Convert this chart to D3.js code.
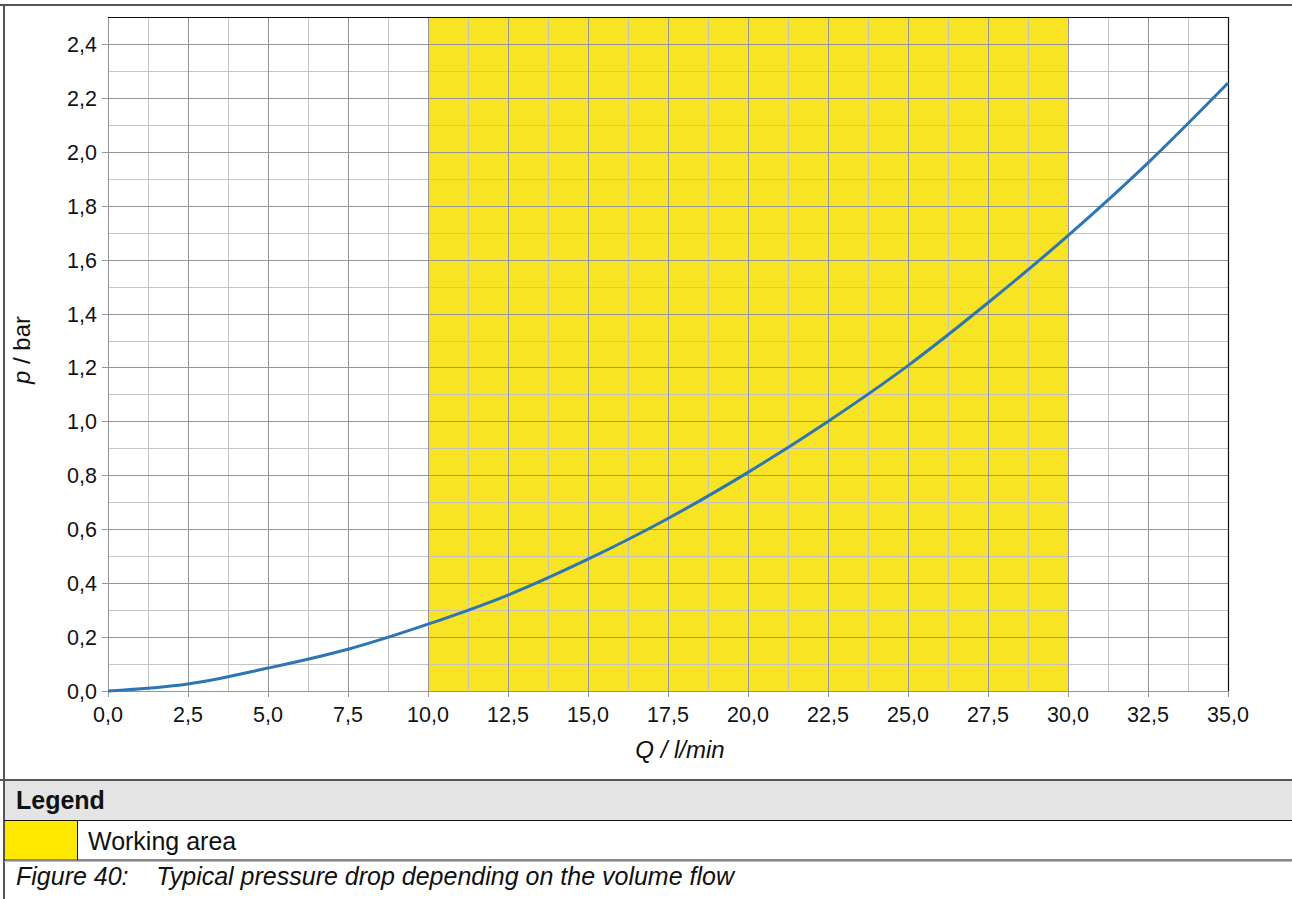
<!DOCTYPE html>
<html>
<head>
<meta charset="utf-8">
<script src="https://cdn.jsdelivr.net/npm/d3@7"></script>
<style>
  body { margin: 0; background: #fff; }
  svg text { font-family: "Liberation Sans", Arial, sans-serif; }
</style>
</head>
<body>
<svg id="chart" width="1292" height="899"></svg>
<script>
// flow rate Q (l/min) and pressure drop p (bar)
const flowQ = [0, 2.5, 5, 7.5, 10, 12.5, 15, 17.5, 20, 22.5, 25, 27.5, 30, 32.5, 35];
const pressureP = [0, 0.026, 0.085, 0.155, 0.248, 0.356, 0.489, 0.64, 0.811, 1.0, 1.207, 1.44, 1.689, 1.959, 2.255];
const workingArea = [10, 30];
const xTicks = [0, 2.5, 5, 7.5, 10, 12.5, 15, 17.5, 20, 22.5, 25, 27.5, 30, 32.5, 35];
const yTicks = [0, 0.2, 0.4, 0.6, 0.8, 1.0, 1.2, 1.4, 1.6, 1.8, 2.0, 2.2, 2.4];

const dims = { left: 108, right: 1228, top: 17, bottom: 691 };

const svg = d3.select("#chart");
const fmt = v => d3.format(".1f")(v).replace(".", ",");

const x = d3.scaleLinear().domain([0, 35]).range([dims.left, dims.right]);
const y = d3.scaleLinear().domain([0, 2.5]).range([dims.bottom, dims.top]);

// outer frame
svg.append("line").attr("x1", 0).attr("x2", 1292).attr("y1", 5).attr("y2", 5)
  .attr("stroke", "#555").attr("stroke-width", 2);
svg.append("line").attr("x1", 4).attr("x2", 4).attr("y1", 4).attr("y2", 899)
  .attr("stroke", "#555").attr("stroke-width", 2);

// working area band
svg.append("rect")
  .attr("x", x(workingArea[0])).attr("y", y(2.5))
  .attr("width", x(workingArea[1]) - x(workingArea[0]))
  .attr("height", y(0) - y(2.5))
  .attr("fill", "#f8e424");

// minor grid
const xMinor = d3.range(1.25, 35, 2.5);
const yMinor = d3.range(0.1, 2.5, 0.2);
const grid = svg.append("g");
grid.selectAll(".xm").data(xMinor).enter().append("line")
  .attr("x1", d => x(d) + 0.5).attr("x2", d => x(d) + 0.5)
  .attr("y1", dims.top).attr("y2", dims.bottom)
  .attr("stroke", "#c4c4c4").attr("stroke-width", 1);
grid.selectAll(".ym").data(yMinor).enter().append("line")
  .attr("y1", d => Math.round(y(d)) + 0.5).attr("y2", d => Math.round(y(d)) + 0.5)
  .attr("x1", dims.left).attr("x2", dims.right)
  .attr("stroke", "#c4c4c4").attr("stroke-width", 1);

// major grid
grid.selectAll(".xM").data(xTicks).enter().append("line")
  .attr("x1", d => x(d) + 0.5).attr("x2", d => x(d) + 0.5)
  .attr("y1", dims.top).attr("y2", dims.bottom + 6)
  .attr("stroke", "#959595").attr("stroke-width", 1);
grid.selectAll(".yM").data(yTicks).enter().append("line")
  .attr("y1", d => Math.round(y(d)) + 0.5).attr("y2", d => Math.round(y(d)) + 0.5)
  .attr("x1", dims.left - 6).attr("x2", dims.right)
  .attr("stroke", "#959595").attr("stroke-width", 1);

// top and right border
svg.append("path")
  .attr("d", `M${dims.left},${dims.top + 0.5}H${dims.right + 0.5}V${dims.bottom}`)
  .attr("fill", "none").attr("stroke", "#111").attr("stroke-width", 1.2);

// tick labels
svg.append("g").selectAll("text").data(xTicks).enter().append("text")
  .attr("x", d => x(d)).attr("y", 722)
  .attr("text-anchor", "middle").attr("font-size", 21.5).attr("fill", "#111")
  .text(fmt);
svg.append("g").selectAll("text").data(yTicks).enter().append("text")
  .attr("x", 97).attr("y", d => y(d) + 8)
  .attr("text-anchor", "end").attr("font-size", 21.5).attr("fill", "#111")
  .text(fmt);

// axis titles
svg.append("text").attr("x", 680).attr("y", 758)
  .attr("text-anchor", "middle").attr("font-size", 24).attr("font-style", "italic")
  .attr("fill", "#111").text("Q / l/min");
const yt = svg.append("text")
  .attr("transform", `translate(30,350) rotate(-90)`)
  .attr("text-anchor", "middle").attr("font-size", 24).attr("fill", "#111");
yt.append("tspan").attr("font-style", "italic").text("p");
yt.append("tspan").text(" / bar");

// curve
const line = d3.line()
  .x((d, i) => x(flowQ[i]))
  .y(d => y(d))
  .curve(d3.curveMonotoneX);
svg.append("path").datum(pressureP)
  .attr("d", line)
  .attr("fill", "none").attr("stroke", "#2e75b6").attr("stroke-width", 3);

// legend table
svg.append("rect").attr("x", 5).attr("y", 780).attr("width", 1287).attr("height", 40)
  .attr("fill", "#e4e4e4");
svg.append("line").attr("x1", 0).attr("x2", 1292).attr("y1", 780).attr("y2", 780)
  .attr("stroke", "#555").attr("stroke-width", 2);
svg.append("line").attr("x1", 4).attr("x2", 1292).attr("y1", 820.5).attr("y2", 820.5)
  .attr("stroke", "#111").attr("stroke-width", 1);
svg.append("text").attr("x", 16).attr("y", 809)
  .attr("font-size", 25).attr("font-weight", "bold").attr("fill", "#111").text("Legend");

svg.append("rect").attr("x", 5).attr("y", 821).attr("width", 72).attr("height", 38)
  .attr("fill", "#ffe800");
svg.append("line").attr("x1", 77.5).attr("x2", 77.5).attr("y1", 821).attr("y2", 860)
  .attr("stroke", "#111").attr("stroke-width", 1);
svg.append("text").attr("x", 88).attr("y", 850)
  .attr("font-size", 25).attr("fill", "#111").text("Working area");
svg.append("line").attr("x1", 4).attr("x2", 1292).attr("y1", 860).attr("y2", 860)
  .attr("stroke", "#111").attr("stroke-width", 1.2);
svg.append("line").attr("x1", 4).attr("x2", 1292).attr("y1", 861.5).attr("y2", 861.5)
  .attr("stroke", "#bbb").attr("stroke-width", 1);

// caption
svg.append("text").attr("x", 16).attr("y", 885)
  .attr("font-size", 25).attr("font-style", "italic").attr("fill", "#111")
  .attr("xml:space", "preserve")
  .text("Figure 40:    Typical pressure drop depending on the volume flow");
</script>
</body>
</html>
